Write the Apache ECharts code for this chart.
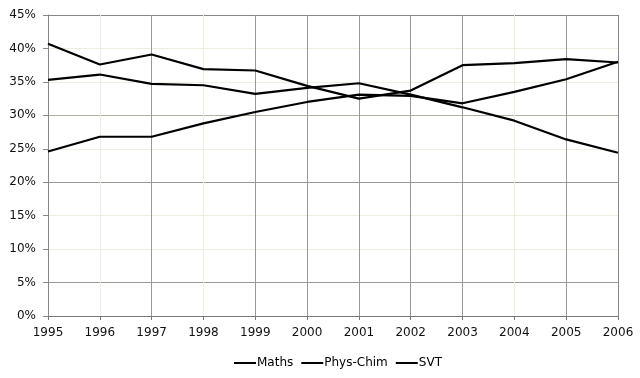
<!DOCTYPE html>
<html>
<head>
<meta charset="utf-8">
<script src="https://cdn.jsdelivr.net/npm/echarts@6/dist/echarts.min.js"></script>
<style>
  html, body { margin: 0; padding: 0; background: #fff; }
  #main { width: 640px; height: 378px; }
</style>
</head>
<body>
<div id="main"></div>
<script>
var years = ['1995', '1996', '1997', '1998', '1999', '2000', '2001', '2002', '2003', '2004', '2005', '2006'];

// shares in percent
var maths    = [40.7, 37.6, 39.1, 36.9, 36.7, 34.4, 32.5, 33.7, 37.5, 37.8, 38.4, 37.9];
var physChim = [35.3, 36.1, 34.7, 34.5, 33.2, 34.1, 34.8, 33.1, 31.2, 29.2, 26.4, 24.4];
var svt      = [24.6, 26.8, 26.8, 28.8, 30.5, 32.0, 33.1, 32.9, 31.8, 33.5, 35.4, 38.0];

var dark = '#999';
var faint = '#efeee0';

var myChart = echarts.init(document.getElementById('main'));

function lineSeries(name, data) {
    return {
        name: name,
        type: 'line',
        data: data,
        symbol: 'none',
        silent: true,
        lineStyle: {color: '#000', width: 2.2},
        itemStyle: {color: '#000'}
    };
}

myChart.setOption({
    backgroundColor: '#fff',
    animation: false,
    textStyle: {fontFamily: 'DejaVu Sans'},
    grid: {left: 48, right: 22, top: 15, bottom: 62},
    legend: {
        top: 352,
        left: 229,
        icon: 'rect',
        itemWidth: 22,
        itemHeight: 2,
        itemGap: 8,
        textStyle: {color: '#000', fontSize: 12, padding: [0, 0, 0, -4]},
        data: ['Maths', 'Phys-Chim', 'SVT']
    },
    xAxis: {
        type: 'category',
        data: years,
        boundaryGap: false,
        axisLine: {lineStyle: {color: '#777', width: 1}},
        axisTick: {show: true, length: 4, lineStyle: {color: '#777'}},
        axisLabel: {color: '#111', fontSize: 12, margin: 11, interval: 0},
        splitLine: {
            show: true,
            interval: 0,
            lineStyle: {
                color: ['#888', faint, dark, faint, dark, dark, dark, dark, dark, faint, dark, '#888'],
                width: 1
            }
        }
    },
    yAxis: {
        type: 'value',
        min: 0,
        max: 45,
        interval: 5,
        axisLine: {show: true, lineStyle: {color: '#888'}},
        axisTick: {show: true, length: 5, lineStyle: {color: '#888'}},
        axisLabel: {color: '#111', fontSize: 12, margin: 12, formatter: '{value}%'},
        splitLine: {
            show: true,
            lineStyle: {
                color: ['#888', dark, faint, faint, dark, faint, '#b3b29c', faint, faint, '#888'],
                width: 1
            }
        }
    },
    series: [
        lineSeries('Maths', maths),
        lineSeries('Phys-Chim', physChim),
        lineSeries('SVT', svt)
    ]
});
</script>
</body>
</html>
